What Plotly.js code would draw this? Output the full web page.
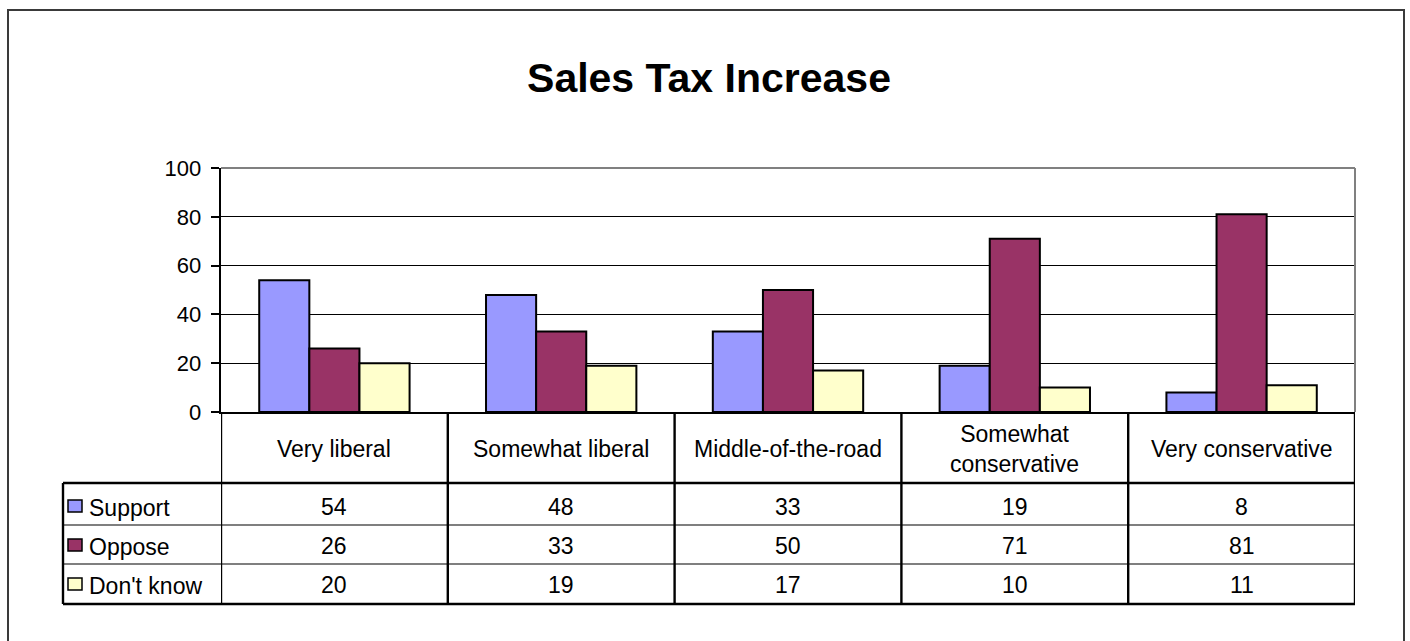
<!DOCTYPE html>
<html><head><meta charset="utf-8">
<script src="https://cdn.plot.ly/plotly-3.0.1.min.js"></script>
<style>html,body{margin:0;padding:0;background:#fff}#chart{width:1410px;height:641px}</style>
</head><body><div id="chart"></div>
<script>
// ---- data ----
const categories = ["Very liberal", "Somewhat liberal", "Middle-of-the-road", "Somewhat conservative", "Very conservative"];
const categoryLabels = ["Very liberal", "Somewhat liberal", "Middle-of-the-road", "Somewhat<br>conservative", "Very conservative"];
const seriesNames = ["Support", "Oppose", "Don't know"];
const support = [54, 48, 33, 19, 8];
const oppose = [26, 33, 50, 71, 81];
const dontKnow = [20, 19, 17, 10, 11];
const yTickVals = [0, 20, 40, 60, 80, 100];
const titleText = "Sales Tax Increase";

// ---- style ----
const colors = ["#9999FF", "#993366", "#FFFFCC"];
const FONT = "Liberation Sans, Arial, Helvetica, sans-serif";
const W = 1410, H = 641;
const L = 221, R = 1355, T = 168, B = 412; // plot area pixels
const pw = R - L, ph = B - T;
const px = v => (v - L) / pw;       // pixel x -> paper
const py = v => (B - v) / ph;       // pixel y -> paper

const seriesValues = [support, oppose, dontKnow];

const traces = seriesNames.map((name, i) => ({
  type: "bar",
  name: name,
  x: categories,
  y: seriesValues[i],
  marker: {color: colors[i], line: {color: "#000", width: 2}},
  hoverinfo: "x+y+name"
}));

// table geometry (pixels)
const tableLeft = 63;
const catRowBottom = 483;
const rowLines = [483, 525, 564, 604];
const rowCenters = [507, 546, 585];

const shapes = [];
const black = "#000";
// outer chart border
shapes.push({type: "rect", xref: "paper", yref: "paper", x0: px(8), x1: px(1404), y0: py(10), y1: py(660),
  line: {color: "#3a3a3a", width: 2}, fillcolor: "rgba(0,0,0,0)", layer: "below"});
// plot-area gray top and right border
shapes.push({type: "line", xref: "paper", yref: "paper", x0: 0, x1: 1, y0: 1, y1: 1, line: {color: "#808080", width: 2}});
shapes.push({type: "line", xref: "paper", yref: "paper", x0: 1, x1: 1, y0: 1, y1: 0, line: {color: "#808080", width: 2}});
// table horizontal lines
rowLines.forEach((r, k) => {
  shapes.push({type: "line", xref: "paper", yref: "paper", x0: px(tableLeft), x1: 1, y0: py(r), y1: py(r),
    line: {color: black, width: (k === 1 || k === 2) ? 1.2 : 2.4}});
});
// left table edge
shapes.push({type: "line", xref: "paper", yref: "paper", x0: px(tableLeft), x1: px(tableLeft), y0: py(catRowBottom), y1: py(604), line: {color: black, width: 2.4}});
// vertical column lines at category boundaries
for (let i = 0; i <= categories.length; i++) {
  shapes.push({type: "line", xref: "x", yref: "paper", x0: i - 0.5, x1: i - 0.5, y0: 0, y1: py(604), line: {color: black, width: 2.4}});
}
// legend keys
rowCenters.forEach((c, i) => {
  shapes.push({type: "rect", xref: "paper", yref: "paper", x0: px(68), x1: px(82), y0: py(c - 7), y1: py(c + 5),
    fillcolor: colors[i], line: {color: black, width: 1.5}});
});

const annotations = [];
categories.forEach((c, i) => {
  annotations.push({xref: "x", yref: "paper", x: c, y: py(449), text: categoryLabels[i], showarrow: false,
    xanchor: "center", yanchor: "middle", font: {family: FONT, size: 23, color: "#000"}});
  seriesValues.forEach((vals, s) => {
    annotations.push({xref: "x", yref: "paper", x: c, y: py(rowCenters[s]), text: String(vals[i]), showarrow: false,
      xanchor: "center", yanchor: "middle", font: {family: FONT, size: 23, color: "#000"}});
  });
});
seriesNames.forEach((n, s) => {
  annotations.push({xref: "paper", yref: "paper", x: px(87), y: py(rowCenters[s] + 1), text: n, showarrow: false,
    xanchor: "left", yanchor: "middle", font: {family: FONT, size: 23, color: "#000"}});
});

const layout = {
  width: W, height: H,
  margin: {l: L, r: W - R, t: T, b: H - B, pad: 0},
  paper_bgcolor: "#fff", plot_bgcolor: "#fff",
  title: {text: titleText, x: 709 / W, xanchor: "center", y: 1 - 78 / H, yanchor: "middle",
    font: {family: FONT, size: 41, color: "#000", weight: "bold"}},
  showlegend: false,
  bargap: 0.337, bargroupgap: 0,
  barmode: "group",
  xaxis: {type: "category", range: [-0.5, 4.5], showticklabels: false, ticks: "", showgrid: false,
    showline: true, linecolor: "#000", linewidth: 2.4, zeroline: false, fixedrange: true},
  yaxis: {range: [0, 100], tickvals: yTickVals, ticks: "outside", ticklen: 8, tickwidth: 2, tickcolor: "#000",
    showline: true, linecolor: "#000", linewidth: 2.4, showgrid: true, gridcolor: "#000", gridwidth: 1,
    zeroline: false, tickfont: {family: FONT, size: 22, color: "#000"}, ticklabelstandoff: 5, fixedrange: true},
  shapes: shapes,
  annotations: annotations
};

Plotly.newPlot("chart", traces, layout, {displayModeBar: false, staticPlot: true});
</script>
</body></html>
